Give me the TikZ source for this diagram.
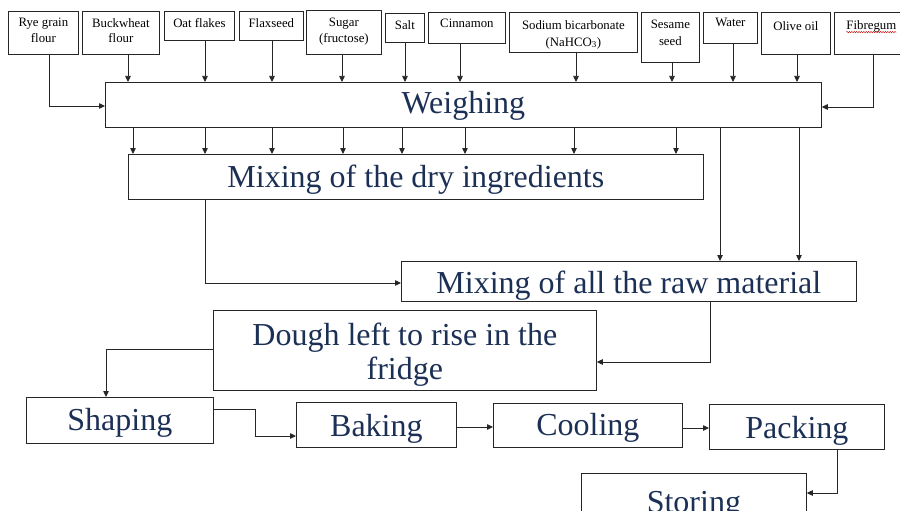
\documentclass[tikz,border=0pt]{standalone}
\usepackage{fontspec}
\setmainfont{Liberation Serif}
\usetikzlibrary{arrows.meta,decorations.pathmorphing}
\definecolor{navy}{RGB}{28,48,86}
\begin{document}
\begin{tikzpicture}[x=1pt,y=-1pt,
  box/.style={draw=black!85, line width=0.75pt, inner sep=0pt, anchor=north west},
  itxt/.style={inner sep=0pt, anchor=north, align=center, font=\fontsize{12.8}{15.5}\selectfont, text=black},
  mtxt/.style={font=\fontsize{32}{34}\selectfont, text=navy},
  mbox/.style={box, mtxt, text height=23pt, text depth=2pt},
  arr/.style={draw=black!85, line width=0.75pt, -{Triangle[length=6pt,width=5.5pt]}},
]
\path[use as bounding box, clip] (0,0) rectangle (900,511);
\fill[white] (0,0) rectangle (900,511);

% ingredient boxes
\node[box, minimum width=70pt,  minimum height=43pt] (rye)   at (8,11)   {};
\node[box, minimum width=77pt,  minimum height=43pt] (buck)  at (82,11)  {};
\node[box, minimum width=70pt,  minimum height=29pt] (oat)   at (164,11) {};
\node[box, minimum width=64pt,  minimum height=29pt] (flax)  at (239,11) {};
\node[box, minimum width=75pt,  minimum height=44pt] (sugar) at (306,10) {};
\node[box, minimum width=39pt,  minimum height=29pt] (salt)  at (385,13) {};
\node[box, minimum width=77pt,  minimum height=31pt] (cinn)  at (428,12) {};
\node[box, minimum width=128pt, minimum height=40pt] (sod)   at (509,12) {};
\node[box, minimum width=58pt,  minimum height=50pt] (ses)   at (641,12) {};
\node[box, minimum width=54pt,  minimum height=31pt] (water) at (703,12) {};
\node[box, minimum width=69pt,  minimum height=42pt] (olive) at (761,12) {};
\node[box, minimum width=74pt,  minimum height=42pt] (fib)   at (834,12) {};

\node[itxt] (ryet)   at ([yshift=-7pt]rye.north)   {Rye grain\\flour};
\node[itxt] (buckt)  at ([yshift=-7pt]buck.north)  {Buckwheat\\flour};
\node[itxt] (oatt)   at ([yshift=-7pt]oat.north)   {Oat flakes};
\node[itxt] (flaxt)  at ([yshift=-7pt]flax.north)  {Flaxseed};
\node[itxt] (sugart) at ([yshift=-8pt]sugar.north) {Sugar\\(fructose)};
\node[itxt] (saltt)  at ([yshift=-7pt]salt.north)  {Salt};
\node[itxt] (cinnt)  at ([yshift=-7pt]cinn.north)  {Cinnamon};
\node[itxt] (sodt)   at ([yshift=-8.5pt]sod.north) {Sodium bicarbonate\\[1pt](NaHCO\textsubscript{3})};
\node[itxt] (sest)   at ([yshift=-8pt]ses.north)   {Sesame\\[1pt]seed};
\node[itxt] (watert) at ([yshift=-5.5pt]water.north) {Water};
\node[itxt] (olivet) at ([yshift=-9pt]olive.north) {Olive oil};
\node[itxt] (fibt)   at ([yshift=-8.5pt]fib.north) {Fibregum};
\draw[red!80!black, line width=0.4pt, decorate, decoration={snake, amplitude=0.7pt, segment length=2.4pt}]
  ([yshift=-2.5pt]fibt.base west) -- ([yshift=-2.5pt]fibt.base east);

% process boxes
\node[mbox, minimum width=716pt, minimum height=45pt, text height=21pt, text depth=4pt] (weigh) at (105,82) {Weighing};
\node[mbox, minimum width=575pt, minimum height=45pt] (dry) at (128,154) {Mixing of the dry ingredients};
\node[mbox, minimum width=455pt, minimum height=40pt, text height=24pt, text depth=0pt] (raw) at (401,261) {Mixing of all the raw material};
\node[box, minimum width=383pt, minimum height=80pt] (dough) at (213,310) {};
\node[mtxt, inner sep=0pt, anchor=north, align=center] (dought) at ([yshift=-13pt]dough.north) {Dough left to rise in the\\fridge};
\node[mbox, minimum width=187pt, minimum height=46pt, text height=22pt, text depth=2pt] (shape) at (26,397) {Shaping};
\node[mbox, minimum width=160pt, minimum height=45pt, text height=24pt, text depth=1pt] (bake) at (296,402) {Baking};
\node[mbox, minimum width=189pt, minimum height=44pt, text height=22pt, text depth=2pt] (cool) at (493,403) {Cooling};
\node[mbox, minimum width=175pt, minimum height=45pt, text height=24pt, text depth=1pt] (pack) at (709,404) {Packing};
\node[mbox, minimum width=225pt, minimum height=60pt, text height=21pt, text depth=3pt] (store) at (581,473) {Storing};

% connectors
\draw[arr] (rye.south -| 49,0) |- (weigh.west |- 0,106);
\foreach \n/\x in {buck/128, oat/205, flax/272, sugar/342, salt/405, cinn/460, sod/576, ses/672, water/733, olive/797}
  \draw[arr] (\n.south -| \x,0) -- (weigh.north -| \x,0);
\draw[arr] (fib.south -| 873,0) |- (weigh.east |- 0,107);
\foreach \x in {133,205,272,343,402,465,574,676}
  \draw[arr] (weigh.south -| \x,0) -- (dry.north -| \x,0);
\foreach \x in {720,799}
  \draw[arr] (weigh.south -| \x,0) -- (raw.north -| \x,0);
\draw[arr] (dry.south -| 205,0) |- (raw.west |- 0,283);
\draw[arr] (raw.south -| 710,0) |- (dough.east |- 0,362);
\draw[arr] (dough.west |- 0,349) -| (shape.north -| 106,0);
\draw[arr] (shape.east |- 0,409) -- ++(42,0) |- (bake.west |- 0,436);
\draw[arr] (bake.east |- 0,427) -- (cool.west |- 0,427);
\draw[arr] (cool.east |- 0,428) -- (pack.west |- 0,428);
\draw[arr] (pack.south -| 837,0) |- (store.east |- 0,493);
\end{tikzpicture}
\end{document}
